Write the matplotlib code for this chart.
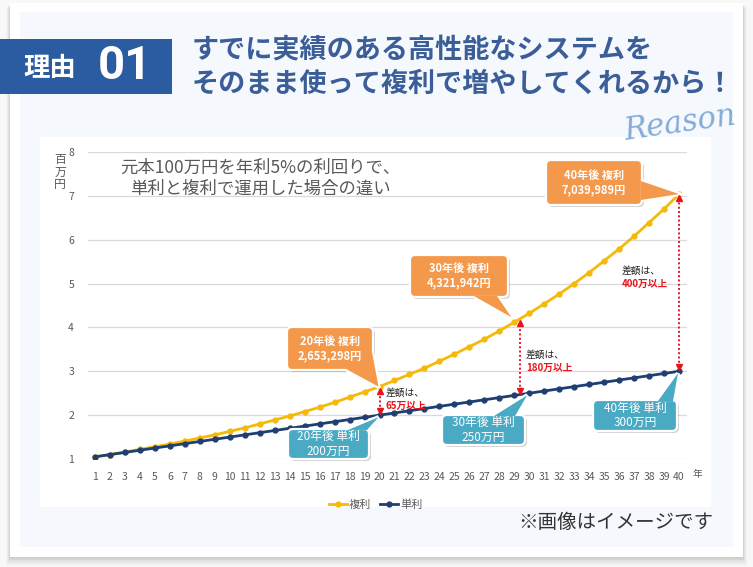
import matplotlib
matplotlib.use("Agg")
import matplotlib.pyplot as plt
from matplotlib.patches import FancyBboxPatch, Polygon, Rectangle

plt.rcParams['font.family'] = ['Noto Sans CJK JP', 'DejaVu Sans']

# data (百万円)
years = list(range(1, 41))
compound = [1.05, 1.10, 1.16, 1.22, 1.28, 1.34, 1.41, 1.48, 1.55, 1.63,
            1.71, 1.80, 1.89, 1.98, 2.08, 2.18, 2.29, 2.41, 2.53, 2.65,
            2.79, 2.93, 3.07, 3.23, 3.39, 3.56, 3.73, 3.92, 4.12, 4.32,
            4.54, 4.76, 5.00, 5.25, 5.52, 5.79, 6.08, 6.39, 6.70, 7.04]
simple = [1.05, 1.10, 1.15, 1.20, 1.25, 1.30, 1.35, 1.40, 1.45, 1.50,
          1.55, 1.60, 1.65, 1.70, 1.75, 1.80, 1.85, 1.90, 1.95, 2.00,
          2.05, 2.10, 2.15, 2.20, 2.25, 2.30, 2.35, 2.40, 2.45, 2.50,
          2.55, 2.60, 2.65, 2.70, 2.75, 2.80, 2.85, 2.90, 2.95, 3.00]
y_ticks = [1, 2, 3, 4, 5, 6, 7, 8]

# gap arrows: (x, low, high, line1, line2)
gaps = [(20, 2.00, 2.65, "差額は、", "65万以上"),
        (29.4, 2.47, 4.19, "差額は、", "180万以上"),
        (40, 3.00, 7.04, "差額は、", "400万以上")]

YELLOW = "#F5B90A"
NAVY = "#1F3E72"
ORANGE = "#F4994C"
TEAL = "#4AAAC4"
RED = "#E8141B"
GRAY = "#595959"

W, H = 753, 567
fig = plt.figure(figsize=(W / 100, H / 100), dpi=100)
fig.patch.set_facecolor("#F8F8F8")

# background layer in pixel coords
bg = fig.add_axes([0, 0, 1, 1], zorder=0)
bg.set_xlim(0, W)
bg.set_ylim(H, 0)
bg.axis("off")
# card shadow + card
for i, a in enumerate([0.05, 0.05, 0.04, 0.03, 0.02]):
    bg.add_patch(Rectangle((10 - i, 3 + i + 1), 733 + 2 * i, 554 + i, color="black", alpha=a, lw=0))
bg.add_patch(Rectangle((10, 3), 733, 554, color="white", lw=0))
bg.add_patch(Rectangle((20, 12), 713, 535, color="#F5F9FE", lw=0))
bg.add_patch(Rectangle((40, 137), 671, 370, color="white", lw=0))

# header
bg.add_patch(Rectangle((0, 39), 172, 55, color="#2B5BA1", lw=0))
bg.text(50, 68, "理由", color="white", fontsize=19, fontweight="bold", ha="center", va="center")
bg.text(125, 66, "01", color="white", fontsize=34, fontweight="bold", ha="center", va="center",
        family=["Roboto", "DejaVu Sans"])
bg.text(192, 50, "すでに実績のある高性能なシステムを", color="#3B5E98", fontsize=19.5,
        fontweight="bold", ha="left", va="center")
bg.text(192, 84, "そのまま使って複利で増やしてくれるから！", color="#3B5E98", fontsize=19.5,
        fontweight="bold", ha="left", va="center")
bg.text(622, 140, "Reason", color="#86ABD6", fontsize=22, style="italic", fontweight="light",
        family=["DejaVu Serif"], rotation=8, ha="left", va="baseline")

# chart subtitle, units, footer
bg.text(260, 178, "元本100万円を年利5%の利回りで、\n単利と複利で運用した場合の違い", color=GRAY,
        fontsize=12.5, ha="center", va="center", linespacing=1.25)
bg.text(60, 172, "百\n万\n円", color=GRAY, fontsize=8.5, ha="center", va="center", linespacing=0.95)
bg.text(697, 474, "年", color=GRAY, fontsize=7, ha="center", va="center")
bg.text(713, 523, "※画像はイメージです", color="#333333", fontsize=14, ha="right", va="center")

# data axes
x0, x1 = 1 - 7 / 14.974, 40 + 8 / 14.974
ax = fig.add_axes([88 / W, (H - 459) / H, 599 / W, 307 / H], zorder=1)
ax.patch.set_alpha(0)
ax.set_xlim(x0, x1)
ax.set_ylim(1, 8)
for s in ax.spines.values():
    s.set_visible(False)
ax.set_yticks(y_ticks)
ax.set_xticks(years)
ax.grid(axis="y", color="#D9D9D9", lw=0.9)
ax.tick_params(length=0, labelsize=7.5, labelcolor=GRAY)
ax.tick_params(axis="y", pad=10)
ax.tick_params(axis="x", pad=9)

ax.plot(years, compound, color=YELLOW, lw=2, marker="o", ms=3.5, label="複利", zorder=3)
ax.plot(years, simple, color=NAVY, lw=2, marker="o", ms=3.5, label="単利", zorder=4)
ax.legend(loc="center", bbox_to_anchor=(0.48, -0.148), ncol=2, frameon=False, fontsize=8,
          handlelength=1.6, handletextpad=0.2, columnspacing=0.8, labelcolor=GRAY)

# top layer for callouts
fg = fig.add_axes([0, 0, 1, 1], zorder=2)
fg.set_xlim(0, W)
fg.set_ylim(H, 0)
fg.axis("off")


def to_px(x, y):
    disp = ax.transData.transform((x, y))
    return fg.transData.inverted().transform(disp)


for gx, lo, hi, t1, t2 in gaps:
    px, plo = to_px(gx, lo)
    _, phi = to_px(gx, hi)
    fg.plot([px, px], [plo - 4, phi + 4], color=RED, lw=1.4, ls=(0, (1, 1.2)))
    fg.plot([px], [phi + 4], marker="^", color=RED, ms=4.5)
    fg.plot([px], [plo - 4], marker="v", color=RED, ms=4.5)

gap_text = [(386, 393), (526, 355), (622, 271)]
for (tx, ty), g in zip(gap_text, gaps):
    fg.text(tx, ty, g[3], fontsize=7, color="#222222", ha="left", va="center")
    fg.text(tx, ty + 13, g[4], fontsize=7, color=RED, fontweight="bold", ha="left", va="center")


def callout(box, base, tip, color, text, bold):
    bx, by, bw, bh = box
    shadow = FancyBboxPatch((bx + 2, by + 2), bw, bh, boxstyle="round,pad=0,rounding_size=5",
                            color="black", alpha=0.18, lw=0)
    fg.add_patch(shadow)
    tail = [base[0], base[1], tip]
    fg.add_patch(Polygon(tail, closed=True, fc="white", ec="white", lw=3))
    fg.add_patch(FancyBboxPatch((bx, by), bw, bh, boxstyle="round,pad=0,rounding_size=5",
                                fc=color, ec="white", lw=1.6))
    fg.add_patch(Polygon(tail, closed=True, fc=color, ec="none"))
    fg.text(bx + bw / 2, by + bh / 2, text, color="white", fontsize=8 if bold else 8.5,
            fontweight="bold" if bold else "normal", ha="center", va="center", linespacing=1.15)


tip = to_px(40, compound[39])
callout((546, 160, 96, 45), ((641, 181), (641, 200)), tip, ORANGE, "40年後 複利\n7,039,989円", True)
tip = to_px(29, compound[28])
callout((410, 255, 98, 42), ((474, 296), (497, 296)), (tip[0] - 3, tip[1] - 5), ORANGE,
        "30年後 複利\n4,321,942円", True)
tip = to_px(20, compound[19])
callout((287, 327, 86, 43), ((346, 369), (372, 352)), (tip[0] - 1, tip[1]), ORANGE,
        "20年後 複利\n2,653,298円", True)
tip = to_px(20, simple[19])
callout((288, 429, 81, 30), ((348, 430), (367, 430)), (tip[0] - 1, tip[1] + 2), TEAL,
        "20年後 単利\n200万円", False)
tip = to_px(30, simple[29])
callout((442, 415, 83, 30), ((494, 416), (515, 416)), (tip[0] - 2, tip[1] + 2), TEAL,
        "30年後 単利\n250万円", False)
tip = to_px(40, simple[39])
callout((593, 400, 84, 31), ((658, 401), (673, 401)), (tip[0] - 1, tip[1] + 2), TEAL,
        "40年後 単利\n300万円", False)

plt.savefig("out.png", dpi=100)
